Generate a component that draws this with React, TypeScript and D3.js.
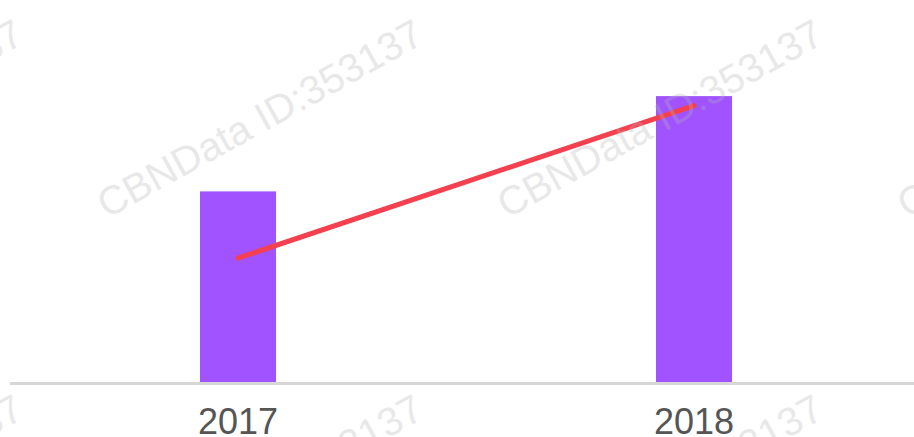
import React from "react";
import * as d3 from "d3";

// values
const years = ["2017", "2018"];
const barValues = [2.0, 3.0];
const lineValues = [1.3, 2.9];
const watermarkText = "CBNData ID:353137";

const W = 914, H = 437;
const baseY = 382;

export default function App() {
  const x = d3.scalePoint<string>().domain(years).range([10, 922]).padding(0.5);
  const y = d3.scaleLinear().domain([0, 4]).range([baseY, baseY - 4 * 95.3]);
  const barW = x.step() / 6;

  const line = d3.line<number>()
    .x((d, i) => x(years[i]) as number)
    .y(d => y(d));

  // watermark tiling
  const marks: [number, number][] = [];
  for (let i = -1; i < 3; i++) {
    for (let j = -1; j < 2; j++) {
      marks.push([107 + 400 * i, 219 + 375 * j]);
    }
  }

  return (
    <svg width={W} height={H} style={{ position: "fixed", left: 0, top: 0, background: "#fff" }}
      fontFamily="'Liberation Sans', Arial, sans-serif">
      {years.map((yr, i) => (
        <rect key={yr} x={(x(yr) as number) - barW / 2} y={y(barValues[i])}
          width={barW} height={baseY - y(barValues[i])} fill="#a053ff" />
      ))}
      <line x1={10} x2={914} y1={baseY + 1.5} y2={baseY + 1.5} stroke="#d7d7d7" strokeWidth={3} />
      {years.map(yr => (
        <text key={yr} x={x(yr)} y={434} textAnchor="middle" fontSize={36} fill="#555">{yr}</text>
      ))}
      <path d={line(lineValues) || ""} fill="none" stroke="#f5404f" strokeWidth={5} strokeLinecap="round" />
      {marks.map(([mx, my], k) => (
        <text key={k} x={mx} y={my} fontSize={40} fill="#b5b5b5" opacity={0.3}
          transform={`rotate(-29 ${mx} ${my})`}>{watermarkText}</text>
      ))}
    </svg>
  );
}
